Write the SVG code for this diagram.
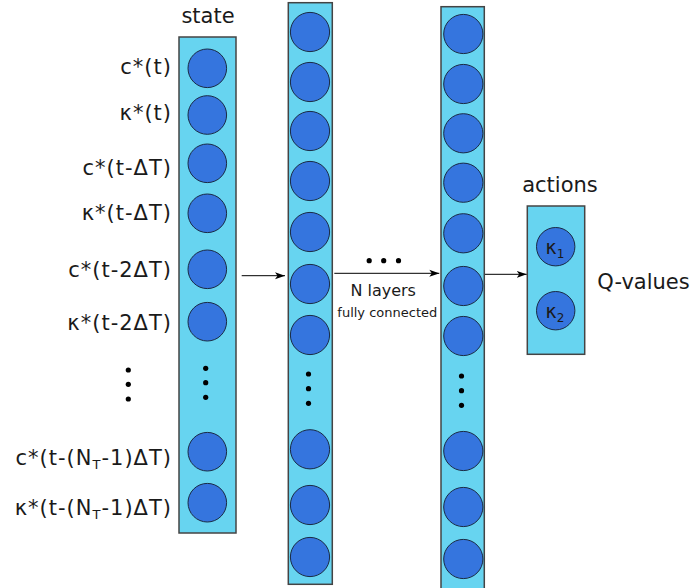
<svg xmlns="http://www.w3.org/2000/svg" width="693" height="588" viewBox="0 0 693 588">
<style>
.col{fill:#67d4f0;stroke:#444;stroke-width:1.5}
.n{fill:#3575de;stroke:#1a2a44;stroke-width:1}
.dot{fill:#000}
.t{font-family:"DejaVu Sans",Verdana,sans-serif;font-size:21px;fill:#1a1a1a}
.lbl{text-anchor:end;letter-spacing:1px}
.s{font-size:13px}
.small{font-family:"DejaVu Sans",Verdana,sans-serif;fill:#1a1a1a}
.ln{stroke:#000;stroke-width:1;fill:none}
</style>
<defs>
<marker id="ah" viewBox="0 0 10 10" refX="10" refY="5" markerWidth="10" markerHeight="10" markerUnits="userSpaceOnUse" orient="auto">
<path d="M0,1.5 L10,5 L0,8.5 L2.5,5 Z" fill="#000"/>
</marker>
</defs>
<g id="labels">
<text class="t" x="208" y="23" text-anchor="middle">state</text>
<text class="t lbl" x="172" y="74">c*(t)</text>
<text class="t lbl" x="172" y="120">κ*(t)</text>
<text class="t lbl" x="172" y="175">c*(t-ΔT)</text>
<text class="t lbl" x="172" y="220">κ*(t-ΔT)</text>
<text class="t lbl" x="172" y="277">c*(t-2ΔT)</text>
<text class="t lbl" x="172" y="330">κ*(t-2ΔT)</text>
<circle class="dot" cx="128.3" cy="370" r="2.6"/>
<circle class="dot" cx="128.3" cy="384.3" r="2.6"/>
<circle class="dot" cx="128.3" cy="399" r="2.6"/>
<text class="t lbl" x="172" y="465">c*(t-(N<tspan class="s" dy="4">T</tspan><tspan dy="-4">-1)ΔT)</tspan></text>
<text class="t lbl" x="172" y="515">κ*(t-(N<tspan class="s" dy="4">T</tspan><tspan dy="-4">-1)ΔT)</tspan></text>
</g>
<g id="state">
<rect class="col" x="179" y="37" width="57" height="496"/>
<circle class="n" cx="207.3" cy="68.3" r="19.3"/>
<circle class="n" cx="207.3" cy="115" r="19.3"/>
<circle class="n" cx="207.3" cy="163.3" r="19.3"/>
<circle class="n" cx="207.3" cy="213.3" r="19.3"/>
<circle class="n" cx="207.3" cy="269.3" r="19.3"/>
<circle class="n" cx="207.3" cy="321.7" r="19.3"/>
<circle class="dot" cx="205.7" cy="368.3" r="2.6"/>
<circle class="dot" cx="205.7" cy="382.7" r="2.6"/>
<circle class="dot" cx="205.7" cy="397.3" r="2.6"/>
<circle class="n" cx="207.3" cy="451.7" r="19.3"/>
<circle class="n" cx="207.3" cy="502.7" r="19.3"/>
</g>
<g id="hidden1">
<rect class="col" x="288.3" y="2.7" width="44" height="581.6"/>
<circle class="n" cx="310" cy="32" r="19.6"/>
<circle class="n" cx="310" cy="82" r="19.6"/>
<circle class="n" cx="310" cy="131" r="19.6"/>
<circle class="n" cx="310" cy="181" r="19.6"/>
<circle class="n" cx="310" cy="232" r="19.6"/>
<circle class="n" cx="310" cy="284" r="19.6"/>
<circle class="n" cx="310" cy="335" r="19.6"/>
<circle class="dot" cx="308.5" cy="374" r="2.6"/>
<circle class="dot" cx="308.5" cy="388.7" r="2.6"/>
<circle class="dot" cx="308.5" cy="403.3" r="2.6"/>
<circle class="n" cx="310" cy="449.3" r="19.6"/>
<circle class="n" cx="310" cy="505" r="19.6"/>
<circle class="n" cx="310" cy="557" r="19.6"/>
</g>
<g id="hiddenN">
<rect class="col" x="441" y="6.7" width="43.3" height="590"/>
<circle class="n" cx="463.3" cy="34" r="19.6"/>
<circle class="n" cx="463.3" cy="84" r="19.6"/>
<circle class="n" cx="463.3" cy="133.3" r="19.6"/>
<circle class="n" cx="463.3" cy="182.7" r="19.6"/>
<circle class="n" cx="463.3" cy="233.3" r="19.6"/>
<circle class="n" cx="463.3" cy="286" r="19.6"/>
<circle class="n" cx="463.3" cy="336" r="19.6"/>
<circle class="dot" cx="461.5" cy="376" r="2.6"/>
<circle class="dot" cx="461.5" cy="390.7" r="2.6"/>
<circle class="dot" cx="461.5" cy="405.3" r="2.6"/>
<circle class="n" cx="463.3" cy="451" r="19.6"/>
<circle class="n" cx="463.3" cy="507" r="19.6"/>
<circle class="n" cx="463.3" cy="559" r="19.6"/>
</g>
<g id="actions">
<text class="t" x="560" y="191.7" text-anchor="middle">actions</text>
<rect class="col" x="527.3" y="206" width="57.4" height="148.3"/>
<circle class="n" cx="555.7" cy="246.7" r="19.2"/>
<circle class="n" cx="555.7" cy="310.7" r="19.2"/>
<text class="small" x="545.5" y="253.5" font-size="19">κ<tspan font-size="12" dy="4">1</tspan></text>
<text class="small" x="545.5" y="317.5" font-size="19">κ<tspan font-size="12" dy="4">2</tspan></text>
<text class="t" x="597.3" y="289.3">Q-values</text>
</g>
<g id="connectors">
<line class="ln" x1="241.7" y1="275.7" x2="285" y2="275.7" marker-end="url(#ah)"/>
<line class="ln" x1="334.3" y1="273.3" x2="439.3" y2="273.3" marker-end="url(#ah)"/>
<line class="ln" x1="485" y1="274.3" x2="526.7" y2="274.3" marker-end="url(#ah)"/>
<circle class="dot" cx="369.2" cy="260.7" r="2.6"/>
<circle class="dot" cx="383.7" cy="260.7" r="2.6"/>
<circle class="dot" cx="398.5" cy="260.7" r="2.6"/>
<text class="small" x="383.2" y="295.7" font-size="16" text-anchor="middle">N layers</text>
<text class="small" x="387.3" y="317.3" font-size="13" text-anchor="middle">fully connected</text>
</g>
</svg>
